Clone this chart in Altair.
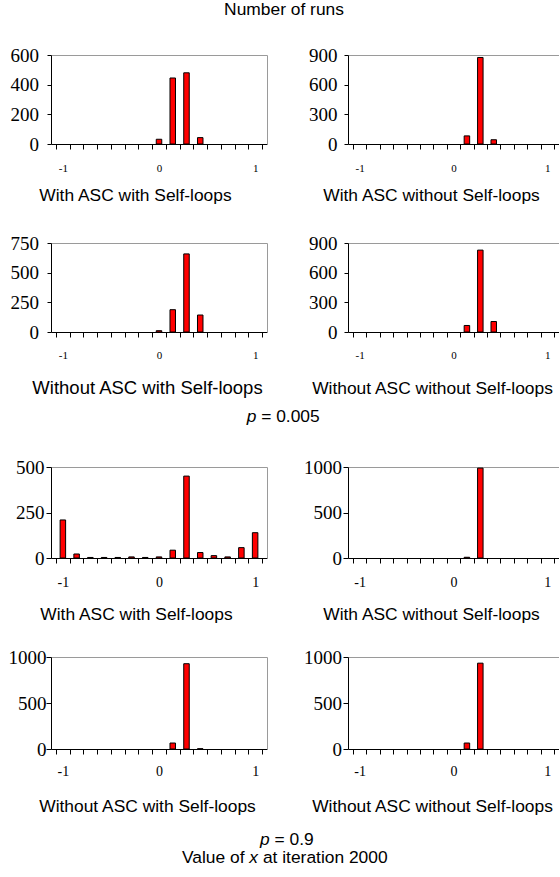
import altair as alt
import pandas as pd

# ---------------- data ----------------
bin_centres = [-1.0, -0.857, -0.714, -0.571, -0.429, -0.286, -0.143, 0.0,
               0.143, 0.286, 0.429, 0.571, 0.714, 0.857, 1.0]
x_tick_labels = [-1, 0, 1]

panel_titles = ["With ASC with Self-loops", "With ASC without Self-loops",
                "Without ASC with Self-loops", "Without ASC without Self-loops"]

# p = 0.005
runs_p005_with_asc_with_sl = [0, 0, 0, 0, 0, 0, 0, 32, 445, 480, 43, 0, 0, 0, 0]
runs_p005_with_asc_without_sl = [0, 0, 0, 0, 0, 0, 0, 0, 82, 875, 43, 0, 0, 0, 0]
runs_p005_without_asc_with_sl = [0, 0, 0, 0, 0, 0, 0, 11, 188, 658, 143, 0, 0, 0, 0]
runs_p005_without_asc_without_sl = [0, 0, 0, 0, 0, 0, 0, 0, 66, 828, 106, 0, 0, 0, 0]
# p = 0.9
runs_p09_with_asc_with_sl = [209, 22, 3, 3, 3, 6, 3, 6, 43, 450, 30, 13, 6, 57, 139]
runs_p09_with_asc_without_sl = [0, 0, 0, 0, 0, 0, 0, 0, 8, 988, 0, 0, 0, 0, 0]
runs_p09_without_asc_with_sl = [0, 0, 0, 0, 0, 0, 0, 0, 65, 927, 3, 0, 0, 0, 0]
runs_p09_without_asc_without_sl = [0, 0, 0, 0, 0, 0, 0, 0, 65, 933, 0, 0, 0, 0, 0]

y_ticks_p005 = [[0, 200, 400, 600], [0, 300, 600, 900],
                [0, 250, 500, 750], [0, 300, 600, 900]]
y_ticks_p09 = [[0, 250, 500], [0, 500, 1000], [0, 500, 1000], [0, 500, 1000]]

top_title = "Number of runs"
p_symbol = "p"
p_values = ["= 0.005", "= 0.9"]
x_title_parts = ["Value of", "x", "at iteration 2000"]

# ---------------- styling ----------------
SANS = "Liberation Sans"
SERIF = "Liberation Serif"
GREY = "#9a9a9a"
X_DOMAIN = [-15 / 14, 15 / 14]
bin_edges = [(-15 + 2 * k) / 14 for k in range(16)]

layouts = [
    dict(w=216, h=89, tx=84, ty=56, ts=17.4, xl=11, xlp=27, yt=4, ylp=8.5, border=True),
    dict(w=211, h=89, tx=83, ty=56, ts=17.4, xl=11, xlp=27, yt=4, ylp=7, border=False),
    dict(w=216, h=89, tx=96, ty=61, ts=18.5, xl=11, xlp=26, yt=4, ylp=8.5, border=True),
    dict(w=211, h=89, tx=84, ty=61, ts=17.4, xl=11, xlp=26, yt=4, ylp=7, border=False),
    dict(w=216, h=127, yr=[127, 36], tx=85, ty=61, ts=17.4, xl=14, xlp=28.5, yt=5, ylp=2, border=True),
    dict(w=211, h=127, yr=[127, 36], tx=83, ty=61, ts=17.4, xl=14, xlp=28.5, yt=5, ylp=1.5, border=False),
    dict(w=216, h=92, tx=96, ty=62, ts=17.4, xl=14, xlp=26, yt=5, ylp=0, border=True),
    dict(w=211, h=92, tx=84, ty=62, ts=17.4, xl=14, xlp=26, yt=5, ylp=1.5, border=False),
]


def text_mark(txt, x, y, align="left", style="normal", size=17.4):
    return alt.Chart(pd.DataFrame({"k": [0]})).mark_text(
        text=txt, font=SANS, fontSize=size, fontStyle=style, align=align,
        baseline="alphabetic", color="black"
    ).encode(x=alt.value(x), y=alt.value(y))


def make_panel(counts, yticks, title, lay, notes):
    df = pd.DataFrame({"x": bin_centres, "runs": counts})
    df = df[df["runs"] > 0]
    ymax = yticks[-1]
    ysc = dict(domain=[0, ymax], nice=False, zero=True)
    if "yr" in lay:
        ysc["range"] = lay["yr"]
    yscale = alt.Scale(**ysc)
    xscale = alt.Scale(domain=X_DOMAIN, nice=False, zero=False)
    top_line = {"condition": {"test": f"datum.value == {ymax}", "value": 1}, "value": 0}

    bars = alt.Chart(df).mark_bar(
        width=5.5, fill="#ff0000", stroke="black", strokeWidth=1
    ).encode(
        x=alt.X("x:Q", scale=xscale, axis=alt.Axis(
            orient="bottom", values=bin_edges, labels=False, ticks=True, tickSize=5,
            tickColor="black", tickWidth=1, domain=True, domainColor="black",
            domainWidth=1, grid=False, title=title, titleFont=SANS,
            titleFontSize=lay["ts"], titleFontWeight="normal", titleColor="black",
            titleX=lay["tx"], titleY=lay["ty"], titleAlign="center",
            titleBaseline="alphabetic")),
        y=alt.Y("runs:Q", scale=yscale, axis=alt.Axis(
            orient="left", values=yticks, format="d", ticks=True, tickSize=lay["yt"],
            tickColor="black", tickWidth=1, domain=True, domainColor="black",
            domainWidth=1, labels=True, labelFont=SERIF, labelFontSize=19,
            labelColor="black", labelPadding=lay["ylp"], labelFlush=False,
            labelOverlap=False, grid=True, gridColor=GREY, gridOpacity=top_line,
            gridWidth=1, title=None)),
    )

    right_axis = (alt.Axis(orient="right", domain=True, domainColor=GREY,
                           domainWidth=1, ticks=False, labels=False, grid=False,
                           title=None)
                  if lay["border"] else None)
    lab = alt.Chart(df).mark_point(opacity=0).encode(
        x=alt.X("x:Q", scale=xscale, axis=alt.Axis(
            orient="bottom", values=x_tick_labels, labels=True, ticks=False,
            tickSize=0, domain=False, grid=False, labelFont=SERIF,
            labelFontSize=lay["xl"], labelColor="black", labelPadding=lay["xlp"],
            labelBaseline="alphabetic", labelFlush=False, labelOverlap=False,
            labelExpr="replace(datum.label, '\u2212', '-')", title=None)),
        y=alt.Y("runs:Q", scale=yscale, axis=right_axis),
    )

    layers = [bars, lab] + [text_mark(*n) for n in notes]
    return alt.layer(*layers).resolve_axis(
        x="independent", y="independent"
    ).properties(width=lay["w"], height=lay["h"])


all_counts = [runs_p005_with_asc_with_sl, runs_p005_with_asc_without_sl,
              runs_p005_without_asc_with_sl, runs_p005_without_asc_without_sl,
              runs_p09_with_asc_with_sl, runs_p09_with_asc_without_sl,
              runs_p09_without_asc_with_sl, runs_p09_without_asc_without_sl]
all_ticks = y_ticks_p005 + y_ticks_p09
all_titles = panel_titles + panel_titles

notes = {
    0: [(top_title, 233, -40, "center")],
    2: [(p_symbol, 205.4, 178.7, "right", "italic"),
        (p_values[0], 210.2, 178.7, "left")],
    6: [(p_symbol, 218.7, 188, "right", "italic"),
        (p_values[1], 223.5, 188, "left"),
        (x_title_parts[0], 193.5, 206.3, "right"),
        (x_title_parts[1], 202.7, 206.3, "center", "italic"),
        (x_title_parts[2], 211.9, 206.3, "left")],
}

panels = [make_panel(all_counts[i], all_ticks[i], all_titles[i], layouts[i],
                     notes.get(i, [])) for i in range(8)]

chart = alt.concat(
    *panels, columns=2, spacing={"row": 99, "column": 81}, bounds="flush"
).properties(
    padding={"left": 8, "top": 1, "right": 0, "bottom": 4},
    background="white",
).configure_view(strokeWidth=0)

chart.save("out.html", embed_options={"renderer": "svg", "actions": False})
